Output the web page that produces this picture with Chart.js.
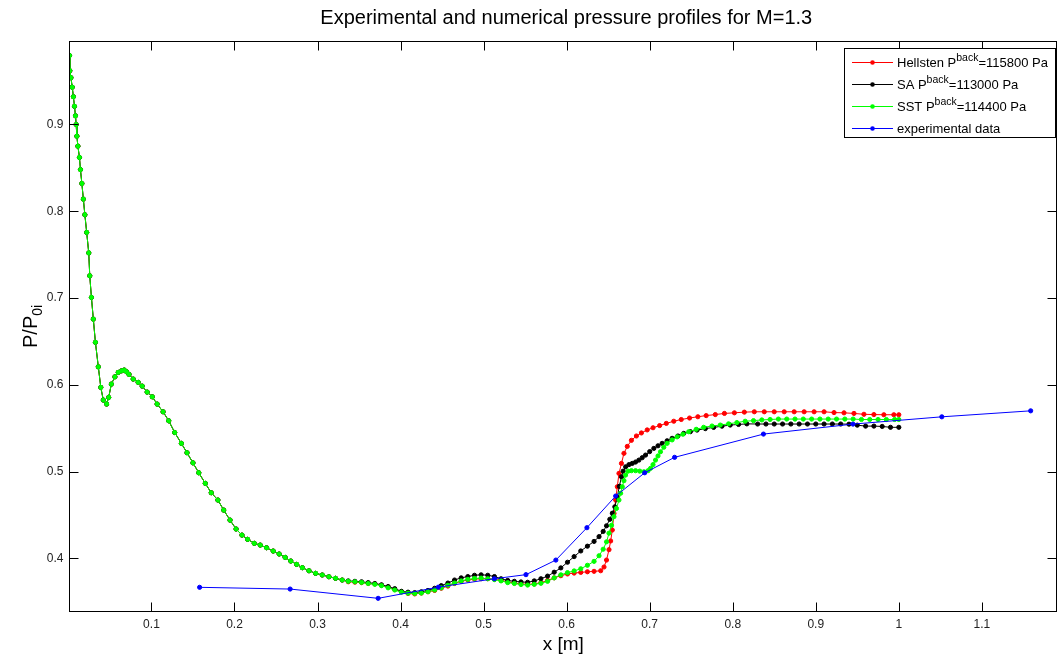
<!DOCTYPE html>
<html>
<head>
<meta charset="utf-8">
<script src="https://cdn.jsdelivr.net/npm/chart.js@4.4.1/dist/chart.umd.min.js"></script>
<style>
  body { margin: 0; background: #fff; }
  #wrap { width: 1062px; height: 661px; }
</style>
</head>
<body>
<div id="wrap"><canvas id="chart" width="1062" height="661"></canvas></div>
<script>
// shared part of the three numerical profiles (they overlap up to x ~ 0.33)
const commonX = [0.0013, 0.0017, 0.003, 0.0046, 0.006, 0.0073, 0.0085, 0.0093, 0.0102, 0.0114, 0.0133, 0.0145, 0.0162, 0.018, 0.0198, 0.022, 0.0245, 0.0257, 0.0277, 0.030, 0.0325, 0.036, 0.039, 0.042, 0.046, 0.0485, 0.0517, 0.056, 0.060, 0.064, 0.0672, 0.070, 0.073, 0.078, 0.084, 0.0888, 0.0948, 0.101, 0.1068, 0.114, 0.1208, 0.128, 0.136, 0.1428, 0.150, 0.157, 0.1648, 0.172, 0.180, 0.187, 0.1946, 0.2019, 0.209, 0.2158, 0.2238, 0.231, 0.2386, 0.2466, 0.2538, 0.261, 0.2678, 0.2749, 0.2817, 0.2897, 0.2977, 0.3057, 0.3137, 0.3217, 0.3297]
const commonP = [0.9795, 0.962, 0.954, 0.943, 0.932, 0.921, 0.910, 0.900, 0.8865, 0.875, 0.862, 0.848, 0.832, 0.814, 0.796, 0.7756, 0.752, 0.7256, 0.7007, 0.6757, 0.649, 0.6207, 0.597, 0.5824, 0.5778, 0.5855, 0.6008, 0.6092, 0.6143, 0.6161, 0.617, 0.615, 0.612, 0.6066, 0.6028, 0.5985, 0.5916, 0.5862, 0.5778, 0.5689, 0.5585, 0.545, 0.5325, 0.5217, 0.510, 0.4986, 0.4864, 0.4756, 0.4672, 0.4556, 0.4441, 0.4338, 0.4268, 0.4219, 0.4173, 0.4153, 0.4122, 0.4084, 0.405, 0.4011, 0.3969, 0.393, 0.3892, 0.3857, 0.3827, 0.3808, 0.3788, 0.377, 0.375]

// Hellsten, P_back = 115800 Pa
const hellstenX = [0.337, 0.345, 0.353, 0.361, 0.369, 0.377, 0.385, 0.393, 0.401, 0.409, 0.417, 0.425, 0.433, 0.441, 0.449, 0.457, 0.465, 0.473, 0.481, 0.489, 0.497, 0.505, 0.513, 0.521, 0.529, 0.537, 0.545, 0.553, 0.561, 0.569, 0.577, 0.585, 0.593, 0.601, 0.609, 0.617, 0.625, 0.633, 0.641, 0.645, 0.648, 0.651, 0.653, 0.655, 0.657, 0.659, 0.661, 0.663, 0.666, 0.669, 0.673, 0.678, 0.684, 0.690, 0.697, 0.704, 0.712, 0.720, 0.729, 0.738, 0.748, 0.758, 0.768, 0.779, 0.790, 0.802, 0.814, 0.826, 0.838, 0.850, 0.862, 0.874, 0.886, 0.898, 0.910, 0.922, 0.934, 0.946, 0.958, 0.970, 0.982, 0.994, 1.000]
const hellstenP = [0.373, 0.3725, 0.372, 0.371, 0.3705, 0.369, 0.367, 0.364, 0.3615, 0.3595, 0.359, 0.360, 0.3615, 0.363, 0.3655, 0.368, 0.371, 0.3735, 0.375, 0.376, 0.3765, 0.3765, 0.376, 0.3745, 0.373, 0.3715, 0.3705, 0.370, 0.3705, 0.372, 0.3745, 0.3775, 0.380, 0.382, 0.383, 0.3838, 0.3845, 0.385, 0.3857, 0.390, 0.398, 0.410, 0.420, 0.4326, 0.4518, 0.4672, 0.4825, 0.4979, 0.5094, 0.521, 0.529, 0.536, 0.541, 0.5445, 0.548, 0.5505, 0.553, 0.5555, 0.558, 0.560, 0.5617, 0.5632, 0.5645, 0.5657, 0.567, 0.5677, 0.5685, 0.5689, 0.5689, 0.5689, 0.5689, 0.5689, 0.5689, 0.5689, 0.5689, 0.568, 0.5677, 0.567, 0.566, 0.5657, 0.5655, 0.5655, 0.5655]

// SA, P_back = 113000 Pa
const saX = [0.337, 0.345, 0.353, 0.361, 0.369, 0.377, 0.385, 0.393, 0.401, 0.409, 0.417, 0.425, 0.433, 0.441, 0.449, 0.457, 0.465, 0.473, 0.481, 0.489, 0.497, 0.505, 0.513, 0.521, 0.529, 0.537, 0.545, 0.553, 0.561, 0.569, 0.577, 0.585, 0.593, 0.601, 0.609, 0.617, 0.625, 0.633, 0.639, 0.644, 0.648, 0.652, 0.655, 0.658, 0.661, 0.6635, 0.666, 0.668, 0.671, 0.675, 0.679, 0.683, 0.687, 0.691, 0.695, 0.700, 0.705, 0.710, 0.715, 0.721, 0.727, 0.734, 0.741, 0.749, 0.757, 0.767, 0.777, 0.787, 0.797, 0.807, 0.817, 0.830, 0.840, 0.850, 0.860, 0.870, 0.880, 0.890, 0.900, 0.910, 0.920, 0.930, 0.940, 0.950, 0.960, 0.970, 0.980, 0.990, 1.000]
const saP = [0.374, 0.3735, 0.373, 0.372, 0.371, 0.3695, 0.3675, 0.365, 0.362, 0.361, 0.3605, 0.3615, 0.363, 0.3655, 0.3685, 0.3715, 0.375, 0.3775, 0.379, 0.3805, 0.381, 0.3805, 0.379, 0.3765, 0.3745, 0.3735, 0.3728, 0.3724, 0.374, 0.3765, 0.3795, 0.384, 0.389, 0.3955, 0.402, 0.4085, 0.414, 0.4195, 0.425, 0.431, 0.4375, 0.445, 0.452, 0.4594, 0.471, 0.483, 0.494, 0.5005, 0.5055, 0.508, 0.5094, 0.511, 0.5132, 0.516, 0.519, 0.523, 0.5267, 0.5297, 0.5325, 0.5355, 0.5383, 0.541, 0.544, 0.546, 0.5478, 0.5495, 0.5509, 0.5523, 0.5536, 0.5543, 0.555, 0.5548, 0.5548, 0.5548, 0.5548, 0.5548, 0.5548, 0.5548, 0.5548, 0.5548, 0.5548, 0.5548, 0.5546, 0.5535, 0.5524, 0.5524, 0.552, 0.551, 0.551]

// SST, P_back = 114400 Pa
const sstX = [0.337, 0.345, 0.353, 0.361, 0.369, 0.377, 0.385, 0.393, 0.401, 0.409, 0.417, 0.425, 0.433, 0.441, 0.449, 0.457, 0.465, 0.473, 0.481, 0.489, 0.497, 0.505, 0.513, 0.521, 0.529, 0.537, 0.545, 0.553, 0.561, 0.569, 0.577, 0.585, 0.593, 0.601, 0.609, 0.617, 0.625, 0.633, 0.639, 0.644, 0.648, 0.651, 0.654, 0.657, 0.660, 0.663, 0.665, 0.667, 0.669, 0.671, 0.674, 0.678, 0.683, 0.688, 0.693, 0.698, 0.701, 0.704, 0.707, 0.710, 0.713, 0.717, 0.721, 0.727, 0.733, 0.740, 0.747, 0.756, 0.765, 0.775, 0.785, 0.795, 0.805, 0.815, 0.825, 0.835, 0.845, 0.855, 0.865, 0.875, 0.885, 0.895, 0.905, 0.915, 0.925, 0.935, 0.945, 0.955, 0.965, 0.975, 0.985, 0.995, 1.000]
const sstP = [0.3735, 0.373, 0.3722, 0.371, 0.370, 0.3685, 0.366, 0.3635, 0.361, 0.3598, 0.3595, 0.360, 0.3615, 0.3635, 0.366, 0.369, 0.3715, 0.374, 0.3758, 0.3768, 0.3772, 0.3765, 0.3755, 0.374, 0.372, 0.371, 0.3698, 0.3692, 0.370, 0.3712, 0.3735, 0.3775, 0.381, 0.3835, 0.3855, 0.388, 0.392, 0.3965, 0.403, 0.4105, 0.419, 0.429, 0.438, 0.448, 0.4575, 0.4672, 0.475, 0.4825, 0.4895, 0.496, 0.5005, 0.501, 0.501, 0.5005, 0.4998, 0.501, 0.5037, 0.508, 0.5132, 0.518, 0.5228, 0.528, 0.5325, 0.5365, 0.540, 0.543, 0.5459, 0.5487, 0.551, 0.5525, 0.5536, 0.555, 0.5565, 0.558, 0.5587, 0.5595, 0.560, 0.5605, 0.5605, 0.5605, 0.5605, 0.5605, 0.5605, 0.5605, 0.5605, 0.5605, 0.5605, 0.560, 0.560, 0.560, 0.560, 0.560, 0.560]

// experimental data
const expX = [0.158, 0.267, 0.373, 0.4455, 0.513, 0.551, 0.587, 0.6244, 0.659, 0.694, 0.730, 0.837, 0.9448, 1.0518, 1.1588]
const expP = [0.3666, 0.3646, 0.3539, 0.3668, 0.3765, 0.3812, 0.398, 0.4353, 0.4718, 0.4986, 0.5164, 0.5432, 0.5547, 0.5631, 0.570]

const xTicks = [0.1, 0.2, 0.3, 0.4, 0.5, 0.6, 0.7, 0.8, 0.9, 1, 1.1]
const yTicks = [0.4, 0.5, 0.6, 0.7, 0.8, 0.9]

const titleText = 'Experimental and numerical pressure profiles for M=1.3'
const legendItems = [
  { color: '#ff0000', text: ['Hellsten P', 'back', '=115800 Pa'] },
  { color: '#000000', text: ['SA P', 'back', '=113000 Pa'] },
  { color: '#00ff00', text: ['SST P', 'back', '=114400 Pa'] },
  { color: '#0000ff', text: ['experimental data', '', ''] }
]

const FONT = "'Liberation Sans', Arial, sans-serif"

function toPoints(xs, ys) {
  return xs.map((x, i) => ({ x: x, y: ys[i] }))
}

function series(label, color, xs, ys, order) {
  return {
    label: label,
    data: toPoints(xs, ys),
    borderColor: color,
    backgroundColor: color,
    borderWidth: 1,
    pointRadius: 2.1,
    pointBorderWidth: 1,
    pointBackgroundColor: color,
    pointBorderColor: color,
    order: order
  }
}

// box, inward tick marks, title, axis labels and the legend, matlab style
const decorations = {
  id: 'decorations',
  afterDraw(chart) {
    const ctx = chart.ctx
    const a = chart.chartArea
    const xs = chart.scales.x
    const ys = chart.scales.y
    const L = Math.floor(a.left) + 0.5
    const R = Math.floor(a.right) - 0.5
    const T = Math.floor(a.top) + 0.5
    const B = Math.floor(a.bottom) + 0.5
    ctx.save()
    ctx.strokeStyle = '#000'
    ctx.lineWidth = 1
    ctx.strokeRect(L, T, R - L, B - T)
    ctx.beginPath()
    xTicks.forEach(v => {
      const px = Math.round(xs.getPixelForValue(v)) + 0.5
      ctx.moveTo(px, B); ctx.lineTo(px, B - 9)
      ctx.moveTo(px, T); ctx.lineTo(px, T + 9)
    })
    yTicks.forEach(v => {
      const py = Math.round(ys.getPixelForValue(v)) + 0.5
      ctx.moveTo(L, py); ctx.lineTo(L + 9, py)
      ctx.moveTo(R, py); ctx.lineTo(R - 9, py)
    })
    ctx.stroke()

    const cx = (a.left + a.right) / 2
    ctx.fillStyle = '#000'
    ctx.textAlign = 'center'
    ctx.textBaseline = 'middle'

    // title
    ctx.font = '20px ' + FONT
    ctx.fillText(titleText, cx + 3, 18)

    // x label
    ctx.font = '19px ' + FONT
    ctx.fillText('x [m]', cx, 645)

    // y label with subscript
    ctx.save()
    ctx.translate(37, (a.top + a.bottom) / 2)
    ctx.rotate(-Math.PI / 2)
    ctx.textBaseline = 'alphabetic'
    ctx.textAlign = 'left'
    ctx.font = '14px ' + FONT
    const subW = ctx.measureText('0i').width
    ctx.font = '20px ' + FONT
    const mainW = ctx.measureText('P/P').width
    const start = -(mainW + subW) / 2
    ctx.fillText('P/P', start, 0)
    ctx.font = '14px ' + FONT
    ctx.fillText('0i', start + mainW, 5)
    ctx.restore()

    // legend
    const bx = 844.5, by = 48.5, bw = 211, bh = 89
    ctx.fillStyle = '#fff'
    ctx.fillRect(bx, by, bw, bh)
    ctx.strokeStyle = '#000'
    ctx.strokeRect(bx, by, bw, bh)
    legendItems.forEach((item, i) => {
      const yy = 62 + i * 22
      ctx.strokeStyle = item.color
      ctx.beginPath()
      ctx.moveTo(852, yy + 0.5); ctx.lineTo(893, yy + 0.5)
      ctx.stroke()
      ctx.fillStyle = item.color
      ctx.beginPath()
      ctx.arc(872.5, yy + 0.5, 2.3, 0, Math.PI * 2)
      ctx.fill()
      ctx.fillStyle = '#000'
      ctx.textAlign = 'left'
      ctx.textBaseline = 'middle'
      let tx = 897
      ctx.font = '13px ' + FONT
      ctx.fillText(item.text[0], tx, yy + 1)
      tx += ctx.measureText(item.text[0]).width
      if (item.text[1]) {
        ctx.font = '10.5px ' + FONT
        ctx.fillText(item.text[1], tx, yy - 4)
        tx += ctx.measureText(item.text[1]).width
        ctx.font = '13px ' + FONT
        ctx.fillText(item.text[2], tx, yy + 1)
      }
    })
    ctx.restore()
  }
}

new Chart(document.getElementById('chart'), {
  type: 'line',
  data: {
    datasets: [
      series('Hellsten', '#ff0000', commonX.concat(hellstenX), commonP.concat(hellstenP), 4),
      series('SA', '#000000', commonX.concat(saX), commonP.concat(saP), 3),
      series('SST', '#00ff00', commonX.concat(sstX), commonP.concat(sstP), 2),
      series('experimental data', '#0000ff', expX, expP, 1)
    ]
  },
  options: {
    responsive: false,
    animation: false,
    layout: { padding: { left: 0, right: 0.5, top: 41.2, bottom: 0 } },
    plugins: {
      legend: { display: false },
      tooltip: { enabled: false },
      title: { display: false }
    },
    scales: {
      x: {
        type: 'linear',
        min: 0.0013,
        max: 1.1905,
        grid: { display: false, drawTicks: false },
        border: { display: false },
        afterBuildTicks: s => { s.ticks = xTicks.map(v => ({ value: v })) },
        afterFit: s => { s.height = 49.3 },
        ticks: {
          padding: 6,
          color: '#222',
          font: { family: FONT, size: 12 },
          callback: v => String(+Number(v).toFixed(1))
        }
      },
      y: {
        type: 'linear',
        min: 0.3385,
        max: 0.996,
        grid: { display: false, drawTicks: false },
        border: { display: false },
        afterBuildTicks: s => { s.ticks = yTicks.map(v => ({ value: v })) },
        afterFit: s => { s.width = 69.5 },
        ticks: {
          padding: 6,
          color: '#222',
          font: { family: FONT, size: 12 },
          callback: v => Number(v).toFixed(1)
        }
      }
    }
  },
  plugins: [decorations]
})
</script>
</body>
</html>
